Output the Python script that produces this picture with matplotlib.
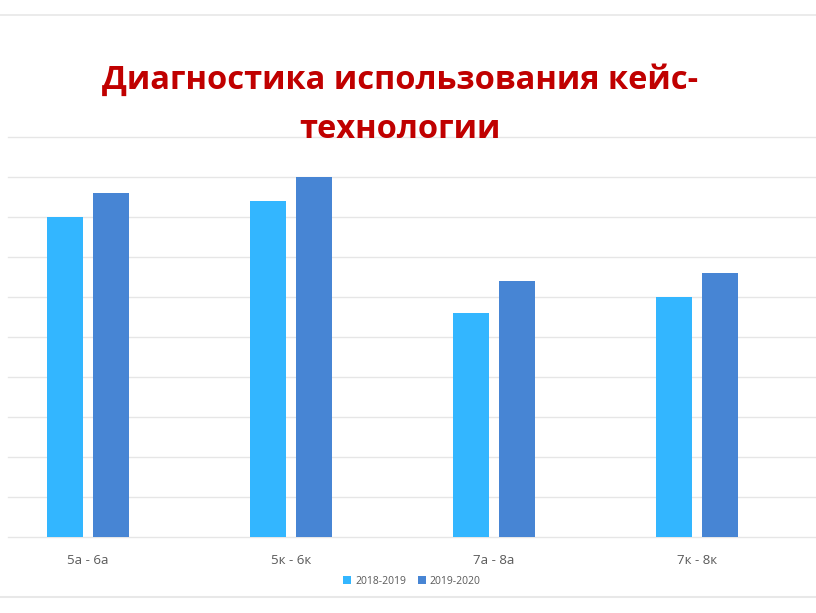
import matplotlib
matplotlib.use("Agg")
import matplotlib.pyplot as plt
from matplotlib.lines import Line2D
import numpy as np

categories = ["5а - 6а", "5к - 6к", "7а - 8а", "7к - 8к"]
series_names = ["2018-2019", "2019-2020"]
vals_2018 = [80, 84, 56, 60]
vals_2019 = [86, 90, 64, 66]
colors = ["#33B6FF", "#4785D4"]

W, H = 816, 613
fig = plt.figure(figsize=(W / 100, H / 100), dpi=100)
ax = fig.add_axes([8 / W, (H - 537) / H, (W - 8) / W, 400 / H])

x = np.arange(len(categories))
bw = 0.175
off = 0.113
ax.bar(x - off, vals_2018, bw, color=colors[0], label=series_names[0], zorder=3)
ax.bar(x + off, vals_2019, bw, color=colors[1], label=series_names[1], zorder=3)

ax.set_xlim((8 - 88) / 203, (816 - 88) / 203)
ax.set_ylim(0, 100)
ax.set_yticks(np.arange(0, 101, 10))
ax.yaxis.grid(True, color="#E6E6E6", linewidth=1, zorder=0)
for gl in ax.get_ygridlines():
    gl.set_clip_on(False)
ax.tick_params(axis="y", left=False, labelleft=False)
ax.tick_params(axis="x", bottom=False, labelsize=9.5, labelcolor="#595959", pad=9)
ax.set_xticks(x)
ax.set_xticklabels(categories, fontfamily="Open Sans")
for s in ax.spines.values():
    s.set_visible(False)

title_kw = dict(ha="center", va="center", fontsize=23.5, fontweight="bold",
                color="#C00000", fontfamily="Open Sans")
fig.text(0.49, 1 - 80 / H, "Диагностика использования кейс-", **title_kw)
fig.text(0.49, 1 - 129 / H, "технологии", **title_kw)

leg = fig.legend(loc="center", bbox_to_anchor=(0.505, 1 - 581 / H), ncol=2, frameon=False,
                 handlelength=0.7, handleheight=0.7, handletextpad=0.4,
                 columnspacing=1.2, prop={"family": "Open Sans", "size": 7.5})
for t in leg.get_texts():
    t.set_color("#595959")

fig.add_artist(Line2D([0, 1], [1 - 15 / H, 1 - 15 / H], color="#E8E8E8", linewidth=1.2))
fig.add_artist(Line2D([0, 1], [1 - 597 / H, 1 - 597 / H], color="#E8E8E8", linewidth=1.5))

fig.savefig("out.png", dpi=100)
